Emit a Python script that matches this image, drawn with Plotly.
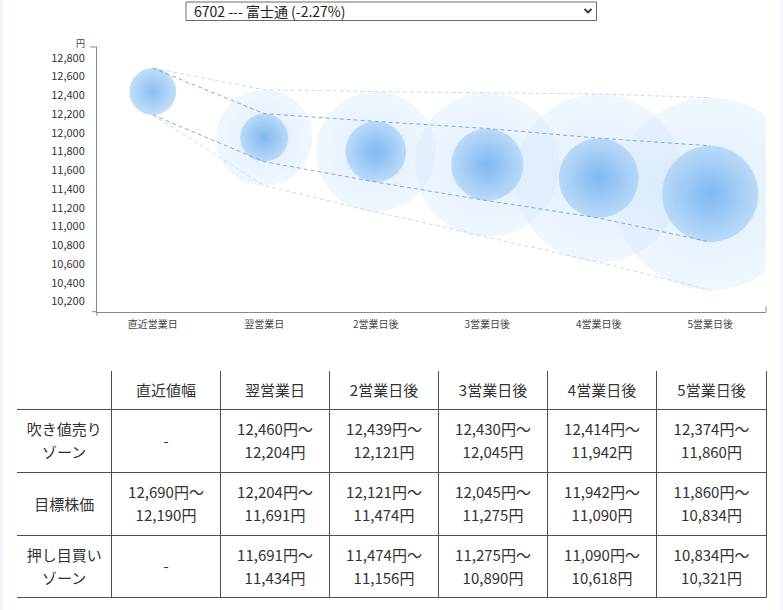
import plotly.graph_objects as go

# 6702 富士通 の予想レンジ
days = ['直近営業日', '翌営業日', '2営業日後', '3営業日後', '4営業日後', '5営業日後']
target_high = [12690, 12204, 12121, 12045, 11942, 11860]
target_low = [12190, 11691, 11474, 11275, 11090, 10834]
sell_high = [None, 12460, 12439, 12430, 12414, 12374]
buy_low = [None, 11434, 11156, 10890, 10618, 10321]

y_ticks = [10200, 10400, 10600, 10800, 11000, 11200, 11400,
           11600, 11800, 12000, 12200, 12400, 12600, 12800]
y_range = [10090, 12915]

header = ['', '直近値幅'] + days[1:]
row_labels = [['吹き値売り', 'ゾーン'], ['目標株価'], ['押し目買い', 'ゾーン']]
select_label = '6702 --- 富士通 (-2.27%)'

FONT = 'Noto Sans CJK JP, Noto Sans, sans-serif'
W, H = 783, 610
# chart area in page pixels
px0, px1 = 97, 766
py0, py1 = 47, 311.7
# table grid in page pixels
col_edges = [17, 111.5, 220.5, 329.5, 438.5, 547.5, 656.5, 766.5]
row_edges = [371, 409.5, 472.5, 535.5, 597.5]
line_gap = 23
text_shift = 2


def fx(px):
    return px / W


def fy(py):
    return 1 - py / H


px_per_yen = (py1 - py0) / (y_range[1] - y_range[0])


def mid(a, b):
    return (a + b) / 2


def diam(a, b):
    return (a - b) * px_per_yen


def rng(a, b):
    return [f'{a:,}円〜', f'{b:,}円']


fig = go.Figure()

# outer bubbles (sell zone top .. buy zone bottom)
fig.add_trace(go.Scatter(
    x=days[1:],
    y=[mid(h, l) for h, l in zip(sell_high[1:], buy_low[1:])],
    mode='markers',
    marker=dict(
        size=[diam(h, l) for h, l in zip(sell_high[1:], buy_low[1:])],
        color='rgba(214,233,252,0.55)',
        gradient=dict(type='radial', color='rgba(185,216,249,0.65)'),
        line=dict(width=0),
    ),
    hoverinfo='skip',
))

# inner bubbles (target range)
fig.add_trace(go.Scatter(
    x=days,
    y=[mid(h, l) for h, l in zip(target_high, target_low)],
    mode='markers',
    marker=dict(
        size=[diam(h, l) for h, l in zip(target_high, target_low)],
        color='rgba(160,204,246,0.92)',
        gradient=dict(type='radial', color='rgba(78,158,236,0.95)'),
        line=dict(width=0),
    ),
    hoverinfo='skip',
))

light = 'rgb(202,218,237)'
dark = 'rgb(134,168,211)'
for ys, col in [
    ([target_high[0]] + sell_high[1:], light),
    ([target_low[0]] + buy_low[1:], light),
    (target_high, dark),
    (target_low, dark),
]:
    fig.add_trace(go.Scatter(
        x=days, y=ys, mode='lines',
        line=dict(color=col, width=1, dash='4px,3px'),
        hoverinfo='skip',
    ))

# table: cells as text on a page-pixel axis pair
table_cols = [row_labels, [['-'], rng(target_high[0], target_low[0]), ['-']]]
for i in range(1, len(days)):
    table_cols.append([
        rng(sell_high[i], target_high[i]),
        rng(target_high[i], target_low[i]),
        rng(target_low[i], buy_low[i]),
    ])

col_mid = [mid(a, b) for a, b in zip(col_edges[:-1], col_edges[1:])]
row_mid = [mid(a, b) + text_shift for a, b in zip(row_edges[:-1], row_edges[1:])]

tx, ty, tt = [], [], []
for c, cells in enumerate(table_cols):
    for r, lines in enumerate(cells):
        n = len(lines)
        for k, s in enumerate(lines):
            tx.append(col_mid[c])
            ty.append(row_mid[r + 1] + (k - (n - 1) / 2) * line_gap)
            tt.append(s)
for c, s in enumerate(header):
    tx.append(col_mid[c])
    ty.append(row_mid[0])
    tt.append(s)

fig.add_trace(go.Scatter(
    x=tx, y=ty, text=tt, mode='text',
    textposition='middle center',
    textfont=dict(family=FONT, size=15, color='#333'),
    xaxis='x2', yaxis='y2', hoverinfo='skip',
))

grid = dict(color='#4f4f4f', width=1)
axis_line = dict(color='#888', width=1)
shapes = [
    dict(type='rect', xref='paper', yref='paper', x0=0, x1=fx(2.5), y0=0, y1=1,
         fillcolor='#edf5fb', line_width=0, layer='below'),
    # clip the bubbles at the right end of the plot area
    dict(type='rect', xref='paper', yref='paper', x0=fx(px1 + 0.5), x1=1, y0=fy(py1 - 1), y1=fy(py0 - 6),
         fillcolor='white', line_width=0, layer='above'),
    dict(type='rect', xref='paper', yref='paper', x0=fx(780.5), x1=1, y0=0, y1=1,
         fillcolor='#f1f6fa', line_width=0, layer='above'),
    # axis end marks
    dict(type='line', xref='paper', yref='paper', x0=fx(90), x1=fx(px0), y0=fy(py0), y1=fy(py0),
         line=axis_line),
    dict(type='line', xref='paper', yref='paper', x0=fx(92), x1=fx(px0), y0=fy(py1), y1=fy(py1),
         line=axis_line),
    dict(type='line', xref='paper', yref='paper', x0=fx(px0), x1=fx(px0), y0=fy(py1), y1=fy(316),
         line=axis_line),
    dict(type='line', xref='paper', yref='paper', x0=fx(px1), x1=fx(px1), y0=fy(py1), y1=fy(306.5),
         line=axis_line),
    # select box
    dict(type='rect', xref='paper', yref='paper', x0=fx(186), x1=fx(596.5), y0=fy(20.5), y1=fy(2),
         fillcolor='white', line=dict(color='#6b6b6b', width=1)),
    dict(type='path', xref='paper', yref='paper',
         path=f'M {fx(584.5)},{fy(9)} L {fx(588)},{fy(12.5)} L {fx(591.5)},{fy(9)}',
         line=dict(color='#333', width=1.8)),
]
# table grid
for y in row_edges[1:]:
    shapes.append(dict(type='line', xref='paper', yref='paper', x0=fx(col_edges[0]),
                       x1=fx(col_edges[-1]), y0=fy(y), y1=fy(y), line=grid))
for x in col_edges[1:]:
    shapes.append(dict(type='line', xref='paper', yref='paper', x0=fx(x), x1=fx(x),
                       y0=fy(row_edges[0]), y1=fy(row_edges[-1]), line=grid))

annotations = [
    dict(xref='paper', yref='paper', x=fx(192), y=fy(11.5), text=select_label,
         showarrow=False, xanchor='left', yanchor='middle',
         font=dict(family=FONT, size=14, color='#222')),
    dict(xref='paper', yref='paper', x=fx(87), y=fy(43), text='円',
         showarrow=False, xanchor='right', yanchor='middle',
         font=dict(family=FONT, size=9, color='#444')),
]

fig.update_layout(
    width=W, height=H,
    margin=dict(l=0, r=0, t=0, b=0),
    paper_bgcolor='white', plot_bgcolor='rgba(0,0,0,0)',
    showlegend=False,
    shapes=shapes,
    annotations=annotations,
    xaxis=dict(
        domain=[fx(px0), fx(px1)],
        type='category', categoryorder='array', categoryarray=days,
        range=[-0.5, 5.5],
        showline=True, linecolor='#888', linewidth=1,
        showgrid=False, zeroline=False, ticks='',
        ticklabelstandoff=3,
        tickfont=dict(family=FONT, size=10, color='#444'),
        fixedrange=True,
    ),
    yaxis=dict(
        domain=[fy(py1), fy(py0)],
        range=y_range,
        tickvals=y_ticks, tickformat=',',
        showline=True, linecolor='#888', linewidth=1,
        showgrid=False, zeroline=False, ticks='',
        ticklabelstandoff=9,
        tickfont=dict(family=FONT, size=11, color='#333'),
        fixedrange=True,
    ),
    xaxis2=dict(domain=[0, 1], range=[0, W], visible=False, anchor='y2', fixedrange=True),
    yaxis2=dict(domain=[0, 1], range=[H, 0], visible=False, anchor='x2', fixedrange=True),
)

fig.write_html('out.html', config={'displayModeBar': False},
               post_script="document.body.style.margin='0';")
